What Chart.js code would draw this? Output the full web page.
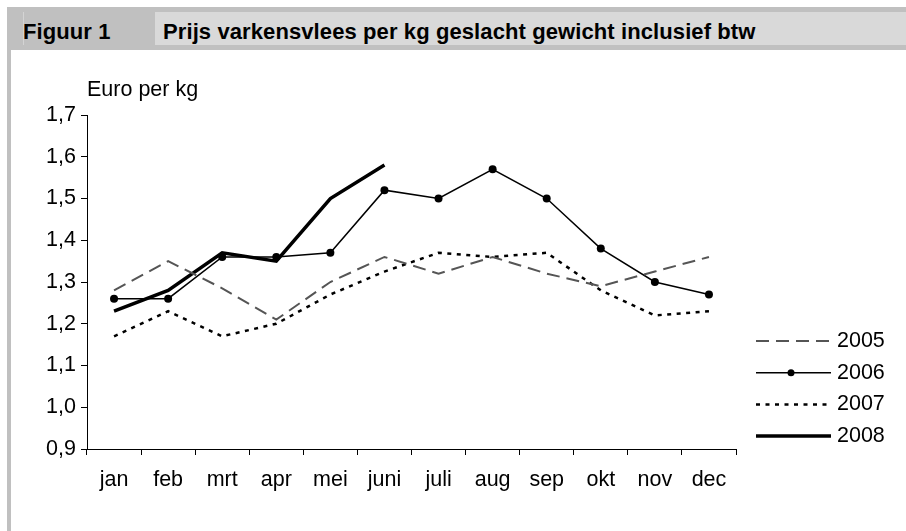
<!DOCTYPE html>
<html lang="nl">
<head>
<meta charset="UTF-8">
<title>Prijs varkensvlees per kg</title>
<script src="https://cdn.jsdelivr.net/npm/chart.js"></script>
<style>
  body { margin: 0; background: #fff; width: 906px; height: 531px; overflow: hidden; position: relative;
         font-family: "Liberation Sans", Arial, sans-serif; }
  #chart { position: absolute; left: 0; top: 0; }
  .band { position: absolute; left: 7px; top: 7px; width: 899px; height: 43px; background: #c0c0c0; }
  .light { position: absolute; left: 155px; top: 12px; width: 751px; height: 33px; background: #d9d9d9; }
  .strip { position: absolute; left: 7px; top: 50px; width: 4px; height: 481px; background: #c0c0c0; }
  .mark { position: absolute; left: 23px; top: 12px; width: 1px; height: 33px; background: #d4d4d4; }
  .head { position: absolute; top: 21px; font-size: 22px; line-height: 22px; font-weight: bold; color: #000;
          white-space: nowrap; letter-spacing: 0.1px; }
</style>
</head>
<body>
<canvas id="chart" width="906" height="531"></canvas>
<div class="band"></div>
<div class="light"></div>
<div class="strip"></div>
<div class="mark"></div>
<div class="head" style="left:23px">Figuur 1</div>
<div class="head" style="left:163px">Prijs varkensvlees per kg geslacht gewicht inclusief btw</div>

<script>
const months = ["jan", "feb", "mrt", "apr", "mei", "juni", "juli", "aug", "sep", "okt", "nov", "dec"];
const years = ["2005", "2006", "2007", "2008"];
const price2005 = [1.28, 1.35, 1.285, 1.21, 1.30, 1.36, 1.32, 1.36, 1.32, 1.29, 1.325, 1.36];
const price2006 = [1.26, 1.26, 1.36, 1.36, 1.37, 1.52, 1.50, 1.57, 1.50, 1.38, 1.30, 1.27];
const price2007 = [1.17, 1.23, 1.17, 1.20, 1.27, 1.325, 1.37, 1.36, 1.37, 1.28, 1.22, 1.23];
const price2008 = [1.23, 1.28, 1.37, 1.35, 1.50, 1.58];
const yTickLabels = ["0,9", "1,0", "1,1", "1,2", "1,3", "1,4", "1,5", "1,6", "1,7"];
const yUnit = "Euro per kg";

const FONT = "'Liberation Sans', Arial, sans-serif";
const FONT_SIZE = 21.5;

// legend on the right: line sample + year, plus the unit label above the axis
const sideLegend = {
    id: "sideLegend",
    afterDraw(chart) {
        const c = chart.ctx;
        c.save();
        c.font = FONT_SIZE + "px " + FONT;
        c.fillStyle = "#000";
        c.textBaseline = "alphabetic";
        c.fillText(yUnit, 87, 96);
        c.textBaseline = "middle";
        chart.data.datasets.forEach((ds, i) => {
            const y = 341 + i * 31.7;
            c.strokeStyle = ds.borderColor;
            c.lineWidth = ds.borderWidth;
            c.setLineDash(ds.borderDash || []);
            c.beginPath();
            c.moveTo(756, y);
            c.lineTo(831, y);
            c.stroke();
            c.setLineDash([]);
            if (ds.pointRadius > 0) {
                c.fillStyle = ds.borderColor;
                c.beginPath();
                c.arc(791, y, 3.5, 0, Math.PI * 2);
                c.fill();
            }
            c.fillStyle = "#000";
            c.fillText(ds.label, 837, y);
        });
        c.restore();
    }
};

const ctx = document.getElementById("chart").getContext("2d");
new Chart(ctx, {
    type: "line",
    data: {
        labels: months,
        datasets: [
            { label: years[0], data: price2005, borderColor: "#555555", borderWidth: 2, borderDash: [13, 7], pointRadius: 0, tension: 0 },
            { label: years[1], data: price2006, borderColor: "#000000", borderWidth: 1.5, pointRadius: 4, pointBorderWidth: 0, pointBackgroundColor: "#000000", tension: 0 },
            { label: years[2], data: price2007, borderColor: "#000000", borderWidth: 2.5, borderDash: [4, 5.5], pointRadius: 0, tension: 0 },
            { label: years[3], data: price2008, borderColor: "#000000", borderWidth: 3.5, pointRadius: 0, tension: 0 }
        ]
    },
    options: {
        responsive: false,
        animation: false,
        devicePixelRatio: 1,
        layout: { padding: { left: 0, right: 170, top: 115, bottom: 0 } },
        plugins: { legend: { display: false }, tooltip: { enabled: false } },
        scales: {
            x: {
                offset: true,
                grid: { offset: true, drawOnChartArea: false, tickLength: 6, color: "#000" },
                border: { color: "#000", width: 1 },
                ticks: { color: "#000", font: { size: FONT_SIZE, family: FONT }, padding: 12.5, maxRotation: 0, autoSkip: false },
                afterFit(s) { s.height = 82; }
            },
            y: {
                min: 0.9,
                max: 1.7,
                grid: { drawOnChartArea: false, tickLength: 6, color: "#000" },
                border: { color: "#000", width: 1 },
                ticks: { stepSize: 0.1, color: "#000", font: { size: FONT_SIZE, family: FONT }, padding: 5,
                         callback: (v, i) => yTickLabels[i] },
                afterFit(s) { s.width = 87; }
            }
        }
    },
    plugins: [sideLegend]
});
</script>
</body>
</html>
